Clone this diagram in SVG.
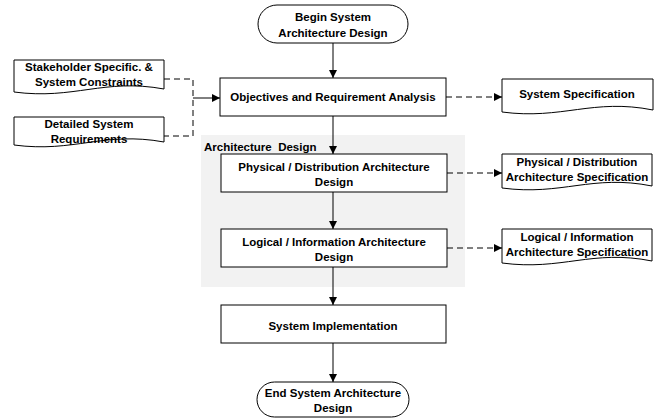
<svg xmlns="http://www.w3.org/2000/svg" width="661" height="419" viewBox="0 0 661 419">
<defs>
<marker id="ah" viewBox="0 0 10 10" refX="10" refY="5" markerWidth="8" markerHeight="8" markerUnits="userSpaceOnUse" orient="auto">
<path d="M0,0 L10,5 L0,10 Z" fill="#000"/>
</marker>
<style>
.b{fill:#fff;stroke:#000;stroke-width:1}
.t{font-family:"Liberation Sans",Arial,sans-serif;font-weight:bold;font-size:11.5px;fill:#000;text-anchor:middle}
.l{fill:none;stroke:#000;stroke-width:1}
.d{fill:none;stroke:#000;stroke-width:1;stroke-dasharray:6,4}
</style>
</defs>
<rect x="201" y="135" width="264" height="152" fill="#f2f2f2"/>
<text x="204" y="151" class="t" style="text-anchor:start;white-space:pre">Architecture  Design</text>
<g id="connectors">
<line x1="333" y1="43" x2="333" y2="78" class="l" marker-end="url(#ah)"/>
<line x1="333" y1="116" x2="333" y2="154" class="l" marker-end="url(#ah)"/>
<line x1="333" y1="192" x2="333" y2="229" class="l" marker-end="url(#ah)"/>
<line x1="333" y1="267" x2="333" y2="305" class="l" marker-end="url(#ah)"/>
<line x1="333" y1="343" x2="333" y2="382" class="l" marker-end="url(#ah)"/>
<polyline points="164,79 193,79 193,136 164,136" class="d"/>
<line x1="193" y1="98" x2="220" y2="98" class="l" marker-end="url(#ah)"/>
<line x1="446" y1="97" x2="502" y2="97" class="d" marker-end="url(#ah)"/>
<line x1="447" y1="173" x2="502" y2="173" class="d" marker-end="url(#ah)"/>
<line x1="447" y1="248" x2="502" y2="248" class="d" marker-end="url(#ah)"/>
</g>
<g id="begin">
<rect x="258" y="5" width="150" height="38" rx="19" ry="19" class="b"/>
<text x="333" y="21" class="t">Begin System</text>
<text x="333" y="37" class="t">Architecture Design</text>
</g>
<g id="objectives">
<rect x="220" y="78" width="226" height="38" class="b"/>
<text x="333" y="101" class="t">Objectives and Requirement Analysis</text>
</g>
<g id="stakeholder">
<path d="M14,60 H164 V89 C104,78 74,100 14,92 Z" class="b"/>
<text x="89" y="71" class="t">Stakeholder Specific. &amp;</text>
<text x="89" y="86" class="t">System Constraints</text>
</g>
<g id="detailed">
<path d="M14,117 H164 V142 C104,131 74,153 14,145 Z" class="b"/>
<text x="89" y="128" class="t">Detailed System</text>
<text x="89" y="143" class="t">Requirements</text>
</g>
<g id="sysspec">
<path d="M502,79 H653 V110 C593,98 562,120 502,112 Z" class="b"/>
<text x="577" y="98" class="t">System Specification</text>
</g>
<g id="physical">
<rect x="221" y="154" width="226" height="38" class="b"/>
<text x="334" y="171" class="t">Physical / Distribution Architecture</text>
<text x="334" y="186" class="t">Design</text>
</g>
<g id="logical">
<rect x="221" y="229" width="226" height="38" class="b"/>
<text x="334" y="246" class="t">Logical / Information Architecture</text>
<text x="334" y="261" class="t">Design</text>
</g>
<g id="physspec">
<path d="M502,154 H652 V186 C592,174 562,196 502,188 Z" class="b"/>
<text x="577" y="166" class="t">Physical / Distribution</text>
<text x="577" y="181" class="t">Architecture Specification</text>
</g>
<g id="logspec">
<path d="M502,229 H652 V261 C592,249 562,271 502,263 Z" class="b"/>
<text x="577" y="241" class="t">Logical / Information</text>
<text x="577" y="256" class="t">Architecture Specification</text>
</g>
<g id="impl">
<rect x="221" y="305" width="225" height="38" class="b"/>
<text x="333" y="330" class="t">System Implementation</text>
</g>
<g id="end">
<rect x="257" y="382" width="152" height="35" rx="17.5" ry="17.5" class="b"/>
<text x="333" y="397" class="t">End System Architecture</text>
<text x="333" y="412" class="t">Design</text>
</g>
</svg>
